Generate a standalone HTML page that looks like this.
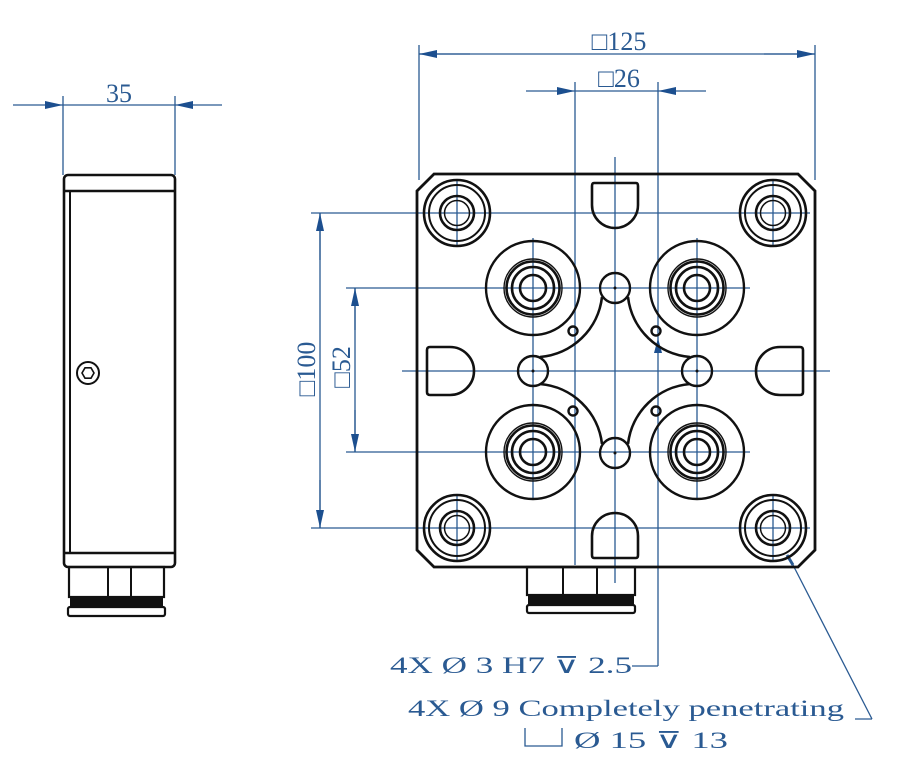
<!DOCTYPE html>
<html><head><meta charset="utf-8"><style>
html,body{margin:0;padding:0;background:#fff;}
svg{display:block;}
text{font-family:"Liberation Serif","DejaVu Serif",serif;fill:#2a5a92;}
</style></head><body>
<svg width="908" height="778" viewBox="0 0 908 778" xmlns="http://www.w3.org/2000/svg">
<defs>
<marker id="a" viewBox="0 0 18 8" refX="18" refY="4" markerWidth="18" markerHeight="8" markerUnits="userSpaceOnUse" orient="auto"><path d="M0,0 L18,4 L0,8 Z" fill="#1c4f8f"/></marker>
</defs>
<!-- ===== Side view ===== -->
<g stroke="#111" fill="none" stroke-width="2.6">
<rect x="64" y="175" width="111" height="392" rx="4"/>
<line x1="64" y1="191" x2="175" y2="191"/>
<line x1="64" y1="553" x2="175" y2="553"/>
<line x1="70" y1="191" x2="70" y2="553" stroke-width="2"/>
<circle cx="88" cy="373" r="11" stroke-width="2"/>
<polygon points="94,373 91,378.2 85,378.2 82,373 85,367.8 91,367.8" stroke-width="1.6"/>
<rect x="69" y="567" width="95" height="30" stroke-width="2.2"/>
<line x1="108" y1="567" x2="108" y2="597" stroke-width="2"/>
<line x1="131" y1="567" x2="131" y2="597" stroke-width="2"/>
<rect x="68" y="607" width="97" height="9" rx="2" stroke-width="2.2"/>
</g>
<rect x="70" y="597" width="93" height="9" fill="#111"/>
<line x1="70" y1="609" x2="163" y2="609" stroke="#fff" stroke-width="1"/>
<!-- 35 dim -->
<g stroke="#2a5a92" stroke-width="1.3" fill="none">
<line x1="63" y1="96" x2="63" y2="175"/>
<line x1="175" y1="96" x2="175" y2="175"/>
<line x1="13" y1="105" x2="63" y2="105" marker-end="url(#a)"/>
<line x1="222" y1="105" x2="175" y2="105" marker-end="url(#a)"/>
<line x1="63" y1="105" x2="175" y2="105"/>
</g>
<text x="119" y="102" font-size="26" text-anchor="middle">35</text>

<!-- ===== Main view: blue center/ext lines ===== -->
<g stroke="#2a5a92" stroke-width="1.3" fill="none">
<line x1="419" y1="45" x2="419" y2="180"/>
<line x1="815" y1="45" x2="815" y2="180"/>
<line x1="575" y1="82" x2="575" y2="565"/>
<line x1="658" y1="82" x2="658" y2="666"/>
<line x1="632" y1="666" x2="658" y2="666"/>
<line x1="615" y1="157" x2="615" y2="583"/>
<line x1="311" y1="213" x2="810" y2="213"/>
<line x1="311" y1="528" x2="810" y2="528"/>
<line x1="346" y1="288" x2="750" y2="288"/>
<line x1="346" y1="452" x2="750" y2="452"/>
<line x1="402" y1="371" x2="830" y2="371"/>
<line x1="457" y1="180" x2="457" y2="245"/>
<line x1="773" y1="180" x2="773" y2="245"/>
<line x1="457" y1="495" x2="457" y2="560"/>
<line x1="773" y1="495" x2="773" y2="560"/>
<line x1="533" y1="238" x2="533" y2="500"/>
<line x1="697" y1="238" x2="697" y2="500"/>
<!-- 125 -->
<line x1="419" y1="54" x2="815" y2="54"/>
<line x1="470" y1="54" x2="419" y2="54" marker-end="url(#a)"/>
<line x1="764" y1="54" x2="815" y2="54" marker-end="url(#a)"/>
<!-- 26 -->
<line x1="526" y1="91" x2="575" y2="91" marker-end="url(#a)"/>
<line x1="706" y1="91" x2="658" y2="91" marker-end="url(#a)"/>
<line x1="575" y1="91" x2="658" y2="91"/>
<!-- 100 -->
<line x1="320" y1="213" x2="320" y2="528"/>
<line x1="320" y1="260" x2="320" y2="213" marker-end="url(#a)"/>
<line x1="320" y1="480" x2="320" y2="528" marker-end="url(#a)"/>
<!-- 52 -->
<line x1="355" y1="288" x2="355" y2="452"/>
<line x1="355" y1="330" x2="355" y2="288" marker-end="url(#a)"/>
<line x1="355" y1="410" x2="355" y2="452" marker-end="url(#a)"/>
<!-- leader to corner hole -->
<line x1="855" y1="719" x2="872" y2="719"/>
<line x1="872" y1="719" x2="793" y2="565"/>
<line x1="793" y1="565" x2="787" y2="555" stroke-width="3"/>
<!-- counterbore symbol -->
<path d="M525,728 V746 H562 V728"/>
</g>
<path d="M658,338 L654,353 L662,353 Z" fill="#1c4f8f"/>
<text x="619" y="50" font-size="26" text-anchor="middle">□125</text>
<text x="619" y="87" font-size="26" text-anchor="middle">□26</text>
<text transform="translate(315,369) rotate(-90)" font-size="26" text-anchor="middle">□100</text>
<text transform="translate(350,367) rotate(-90)" font-size="26" text-anchor="middle">□52</text>
<text x="390" y="673" font-size="23" textLength="242" lengthAdjust="spacingAndGlyphs">4X  Ø  3  H7  ⊽  2.5</text>
<text x="408" y="716" font-size="23" textLength="436" lengthAdjust="spacingAndGlyphs">4X  Ø  9 Completely penetrating</text>
<text x="574" y="748" font-size="23" textLength="154" lengthAdjust="spacingAndGlyphs">Ø  15  ⊽  13</text>

<!-- plate -->
<g stroke="#111" fill="none" stroke-width="2.8">
<path d="M434,174 H798 L815,191 V550 L798,567 H434 L417,550 V191 Z"/>
<rect x="527" y="567" width="108" height="28" stroke-width="2.2"/>
<line x1="563" y1="567" x2="563" y2="595" stroke-width="2"/>
<line x1="597" y1="567" x2="597" y2="595" stroke-width="2"/>
<rect x="527" y="605" width="108" height="8" rx="2" stroke-width="2.2"/>
</g>
<rect x="528" y="595" width="106" height="9" fill="#111"/>
<g stroke="#111" fill="none">
<g id="ch"><circle cx="457" cy="213" r="33" stroke-width="2.6"/><circle cx="457" cy="213" r="28" stroke-width="2"/><circle cx="457" cy="213" r="17" stroke-width="2.6"/><circle cx="457" cy="213" r="12.5" stroke-width="1.5"/></g>
<use href="#ch" x="316"/><use href="#ch" y="315"/><use href="#ch" x="316" y="315"/>
<g id="pt"><circle cx="533" cy="288" r="47" stroke-width="2.4"/><circle cx="533" cy="288" r="29" stroke-width="1.4"/><circle cx="533" cy="288" r="26.5" stroke-width="2.6"/><circle cx="533" cy="288" r="21" stroke-width="2.6"/><circle cx="533" cy="288" r="13" stroke-width="2.6"/></g>
<use href="#pt" x="164"/><use href="#pt" y="164"/><use href="#pt" x="164" y="164"/>
<circle cx="615" cy="288" r="15" stroke-width="2.4"/>
<circle cx="615" cy="453" r="15" stroke-width="2.4"/>
<circle cx="533" cy="371" r="15" stroke-width="2.4"/>
<circle cx="697" cy="371" r="15" stroke-width="2.4"/>
<path d="M602,297 A68,68 0 0 1 540,357" stroke-width="2.6"/>
<path d="M628,297 A68,68 0 0 0 690,357" stroke-width="2.6"/>
<path d="M602,444 A68,68 0 0 0 540,384" stroke-width="2.6"/>
<path d="M628,444 A68,68 0 0 1 690,384" stroke-width="2.6"/>
<circle cx="573" cy="331" r="4.5" stroke-width="2.4"/>
<circle cx="656" cy="331" r="4.5" stroke-width="2.4"/>
<circle cx="573" cy="411" r="4.5" stroke-width="2.4"/>
<circle cx="656" cy="411" r="4.5" stroke-width="2.4"/>
<path d="M594,183 H636 Q638,183 638,186 V205 A23,23 0 0 1 592,205 V186 Q592,183 594,183 Z" stroke-width="2.6"/>
<path d="M594,558 H636 Q638,558 638,555 V536 A23,23 0 0 0 592,536 V555 Q592,558 594,558 Z" stroke-width="2.6"/>
<path d="M427,350 V392 Q427,395 430,395 H450 A24,24 0 0 0 450,347 H430 Q427,347 427,350 Z" stroke-width="2.6"/>
<path d="M803,350 V392 Q803,395 800,395 H780 A24,24 0 0 1 780,347 H800 Q803,347 803,350 Z" stroke-width="2.6"/>
</g>
<g fill="#111"><circle cx="615" cy="288" r="1.5"/><circle cx="615" cy="453" r="1.5"/><circle cx="533" cy="371" r="1.5"/><circle cx="697" cy="371" r="1.5"/></g>
</svg>
</body></html>
